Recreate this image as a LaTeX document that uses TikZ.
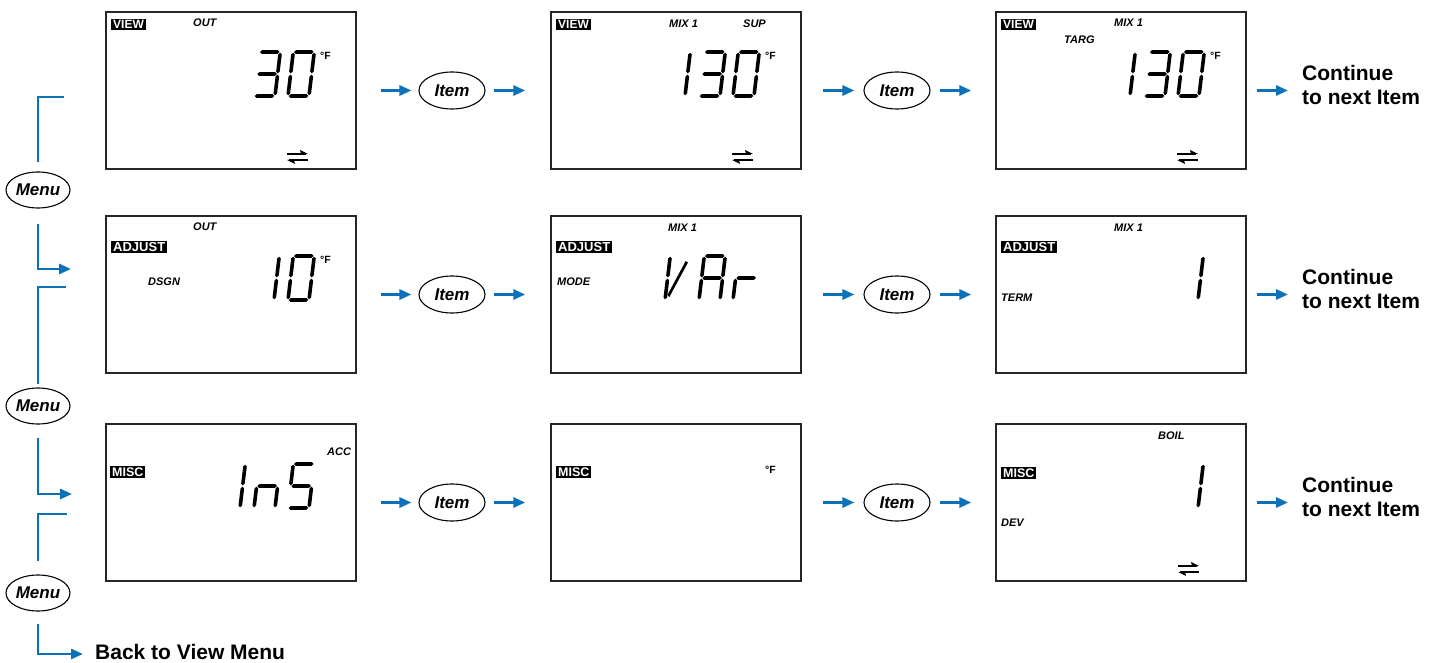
\documentclass[tikz,border=0pt]{standalone}
\usepackage{fontspec}
\setmainfont{Liberation Sans}
\usetikzlibrary{arrows.meta,shapes.geometric,calc}
\definecolor{flowblue}{HTML}{0B72BA}
\newcommand\hsegm[3]{\fill (#1+0.7,#3) -- (#1+2.5,#3+1.8) -- (#2-2.5,#3+1.8) -- (#2-0.7,#3) -- (#2-2.5,#3-1.8) -- (#1+2.5,#3-1.8) -- cycle;}
\newcommand\vsegm[3]{\fill (#1,#2+0.7) -- (#1+1.8,#2+2.5) -- (#1+1.8,#3-2.5) -- (#1,#3-0.7) -- (#1-1.8,#3-2.5) -- (#1-1.8,#2+2.5) -- cycle;}
\newcommand\lcdsega{\hsegm{0}{21}{44}}
\newcommand\lcdsegb{\vsegm{21}{22}{44}}
\newcommand\lcdsegc{\vsegm{21}{0}{22}}
\newcommand\lcdsegd{\hsegm{0}{21}{0}}
\newcommand\lcdsege{\vsegm{0}{0}{22}}
\newcommand\lcdsegf{\vsegm{0}{22}{44}}
\newcommand\lcdsegg{\hsegm{0}{21}{22}}
\newcommand\lcdsegv{\fill (16,39) -- (18.5,37.5) -- (4,3) -- (1.8,5) -- cycle;}
\newcommand\lcddigit[3]{\begin{scope}[shift={(#1,#2)},x={(1pt,0pt)},y={(0.12pt,1pt)}]\foreach \s in {#3}{\csname lcdseg\s\endcsname}\end{scope}}
\newcommand\lcdswap[2]{\begin{scope}[shift={(#1,#2)}]
 \draw[line width=1.3pt] (0,-3) -- (19,-3); \fill (21,-3) -- (13,-7) -- (14,-3) -- cycle;
 \draw[line width=1.3pt] (2,3) -- (21,3); \fill (0,3) -- (8,7) -- (7,3) -- cycle;
\end{scope}}
\tikzset{
 lcd/.style={draw=black!85, line width=1.4pt, minimum width=250pt, minimum height=157pt, inner sep=0pt},
 lbl/.style={anchor=west, inner sep=0pt, font=\fontsize{11}{11}\selectfont\bfseries\itshape},
 tagbox/.style={anchor=west, fill=black, text=white, inner xsep=2pt, inner ysep=1.3pt, text height=9pt, text depth=0pt, font=\fontsize{#1}{#1}\selectfont\bfseries},
 deg/.style={anchor=west, inner sep=0pt, font=\fontsize{10.5}{10.5}\selectfont\bfseries},
 btn/.style={ellipse, draw, line width=1.1pt, minimum width=66pt, minimum height=37pt, inner sep=0pt, font=\fontsize{17}{17}\selectfont\bfseries\itshape},
 menubtn/.style={btn, minimum width=64pt, minimum height=36pt},
 flow/.style={draw=flowblue, line width=2.9pt, -{Triangle[length=12pt,width=10pt]}},
 flowline/.style={draw=flowblue, line width=2.9pt},
 big/.style={anchor=west, align=left, inner sep=0pt, font=\fontsize{21}{24}\selectfont\bfseries},
}
\begin{document}
\begin{tikzpicture}[x=1pt,y=-1pt]
\useasboundingbox (0,0) rectangle (1438,663);
% ---------- screens row 1
\node[lcd] (s11) at (231,90.5) {};
\node[lcd] (s12) at (676,90.5) {};
\node[lcd] (s13) at (1121,90.5) {};
\begin{scope}[shift={(106,12)}]
 \node[tagbox=12] (t11) at (5,12.5) {VIEW};
 \node[lbl] (l11) at (87,11) {OUT};
 \lcddigit{148}{84}{a,b,c,d,g}
 \lcddigit{182}{84}{a,b,c,d,e,f}
 \node[deg] (d11) at (214,44) {°F};
 \lcdswap{181}{145}
\end{scope}
\begin{scope}[shift={(551,12)}]
 \node[tagbox=12] (t12) at (5,12.5) {VIEW};
 \node[lbl] (l12) at (118,12) {MIX 1};
 \node[lbl] (l12b) at (192,12) {SUP};
 \lcddigit{113}{84}{b,c}
 \lcddigit{148}{84}{a,b,c,d,g}
 \lcddigit{182}{84}{a,b,c,d,e,f}
 \node[deg] (d12) at (214,44) {°F};
 \lcdswap{181}{145}
\end{scope}
\begin{scope}[shift={(996,12)}]
 \node[tagbox=12] (t13) at (5,12.5) {VIEW};
 \node[lbl] (l13) at (118,11) {MIX 1};
 \node[lbl] (l13b) at (68,28) {TARG};
 \lcddigit{113}{84}{b,c}
 \lcddigit{148}{84}{a,b,c,d,g}
 \lcddigit{182}{84}{a,b,c,d,e,f}
 \node[deg] (d13) at (214,44) {°F};
 \lcdswap{181}{145}
\end{scope}
% ---------- screens row 2
\node[lcd] (s21) at (231,294.5) {};
\node[lcd] (s22) at (676,294.5) {};
\node[lcd] (s23) at (1121,294.5) {};
\begin{scope}[shift={(106,216)}]
 \node[lbl] (l21) at (87,11) {OUT};
 \node[tagbox=13] (t21) at (5,31) {ADJUST};
 \node[lbl] (l21b) at (42,66) {DSGN};
 \lcddigit{147}{84}{b,c}
 \lcddigit{182}{84}{a,b,c,d,e,f}
 \node[deg] (d21) at (214,44) {°F};
\end{scope}
\begin{scope}[shift={(551,216)}]
 \node[lbl] (l22) at (117,12) {MIX 1};
 \node[tagbox=13] (t22) at (5,31) {ADJUST};
 \node[lbl] (l22b) at (6,66) {MODE};
 \lcddigit{114}{84}{e,f,v}
 \lcddigit{148}{84}{a,b,c,e,f,g}
 \lcddigit{182}{84}{e,g}
\end{scope}
\begin{scope}[shift={(996,216)}]
 \node[lbl] (l23) at (118,12) {MIX 1};
 \node[tagbox=13] (t23) at (5,31) {ADJUST};
 \node[lbl] (l23b) at (5,82) {TERM};
 \lcddigit{181}{84}{b,c}
\end{scope}
% ---------- screens row 3
\node[lcd] (s31) at (231,502.5) {};
\node[lcd] (s32) at (676,502.5) {};
\node[lcd] (s33) at (1121,502.5) {};
\begin{scope}[shift={(106,424)}]
 \node[lbl] (l31) at (221,28) {ACC};
 \node[tagbox=12.5] (t31) at (4,48) {MISC};
 \lcddigit{113}{84}{b,c}
 \lcddigit{148}{84}{c,e,g}
 \lcddigit{182}{84}{a,c,d,f,g}
\end{scope}
\begin{scope}[shift={(551,424)}]
 \node[tagbox=12.5] (t32) at (5,48) {MISC};
 \node[deg] (d32) at (214,46) {°F};
\end{scope}
\begin{scope}[shift={(996,424)}]
 \node[lbl] (l33) at (162,12) {BOIL};
 \node[tagbox=12.5] (t33) at (5,49) {MISC};
 \node[lbl] (l33b) at (5,99) {DEV};
 \lcddigit{181}{84}{b,c}
 \lcdswap{182}{145}
\end{scope}
% ---------- Item buttons and arrows
\foreach \r/\y in {1/90.5,2/294.5,3/502.5}{
 \node[btn] (ia\r) at (452,\y) {Item};
 \node[btn] (ib\r) at (897,\y) {Item};
 \node[big] (cont\r) at (1302,\y-5.5) {Continue\\to next Item};
 \draw[flow, shorten <=24pt, shorten >=7pt] (s\r1.east) -- (ia\r.west);
 \draw[flow, shorten <=8pt, shorten >=25pt] (ia\r.east) -- (s\r2.west);
 \draw[flow, shorten <=21pt, shorten >=9pt] (s\r2.east) -- (ib\r.west);
 \draw[flow, shorten <=9pt, shorten >=24pt] (ib\r.east) -- (s\r3.west);
 \draw[flow, shorten <=10pt, shorten >=14pt] (s\r3.east) -- (s\r3.east -| cont\r.west);
}
% ---------- Menu column
\node[menubtn] (menu1) at (38,190) {Menu};
\node[menubtn] (menu2) at (38,406) {Menu};
\node[menubtn] (menu3) at (38,593) {Menu};
\node[big] (back) at (95,652) {Back to View Menu};
\coordinate (m1top) at (64,97);
\coordinate (a2) at (71,269);
\coordinate (m2top) at (66,287);
\coordinate (a3) at (72,494);
\coordinate (m3top) at (67,514);
\coordinate (a4) at (83,654);
\draw[flowline, shorten >=9pt] (m1top) -| (menu1.north);
\draw[flow, shorten <=15pt] (menu1.south) |- (a2);
\draw[flowline, shorten >=3pt] (m2top) -| (menu2.north);
\draw[flow, shorten <=13pt] (menu2.south) |- (a3);
\draw[flowline, shorten >=13pt] (m3top) -| (menu3.north);
\draw[flow, shorten <=12pt] (menu3.south) |- (a4);
\end{tikzpicture}
\end{document}
